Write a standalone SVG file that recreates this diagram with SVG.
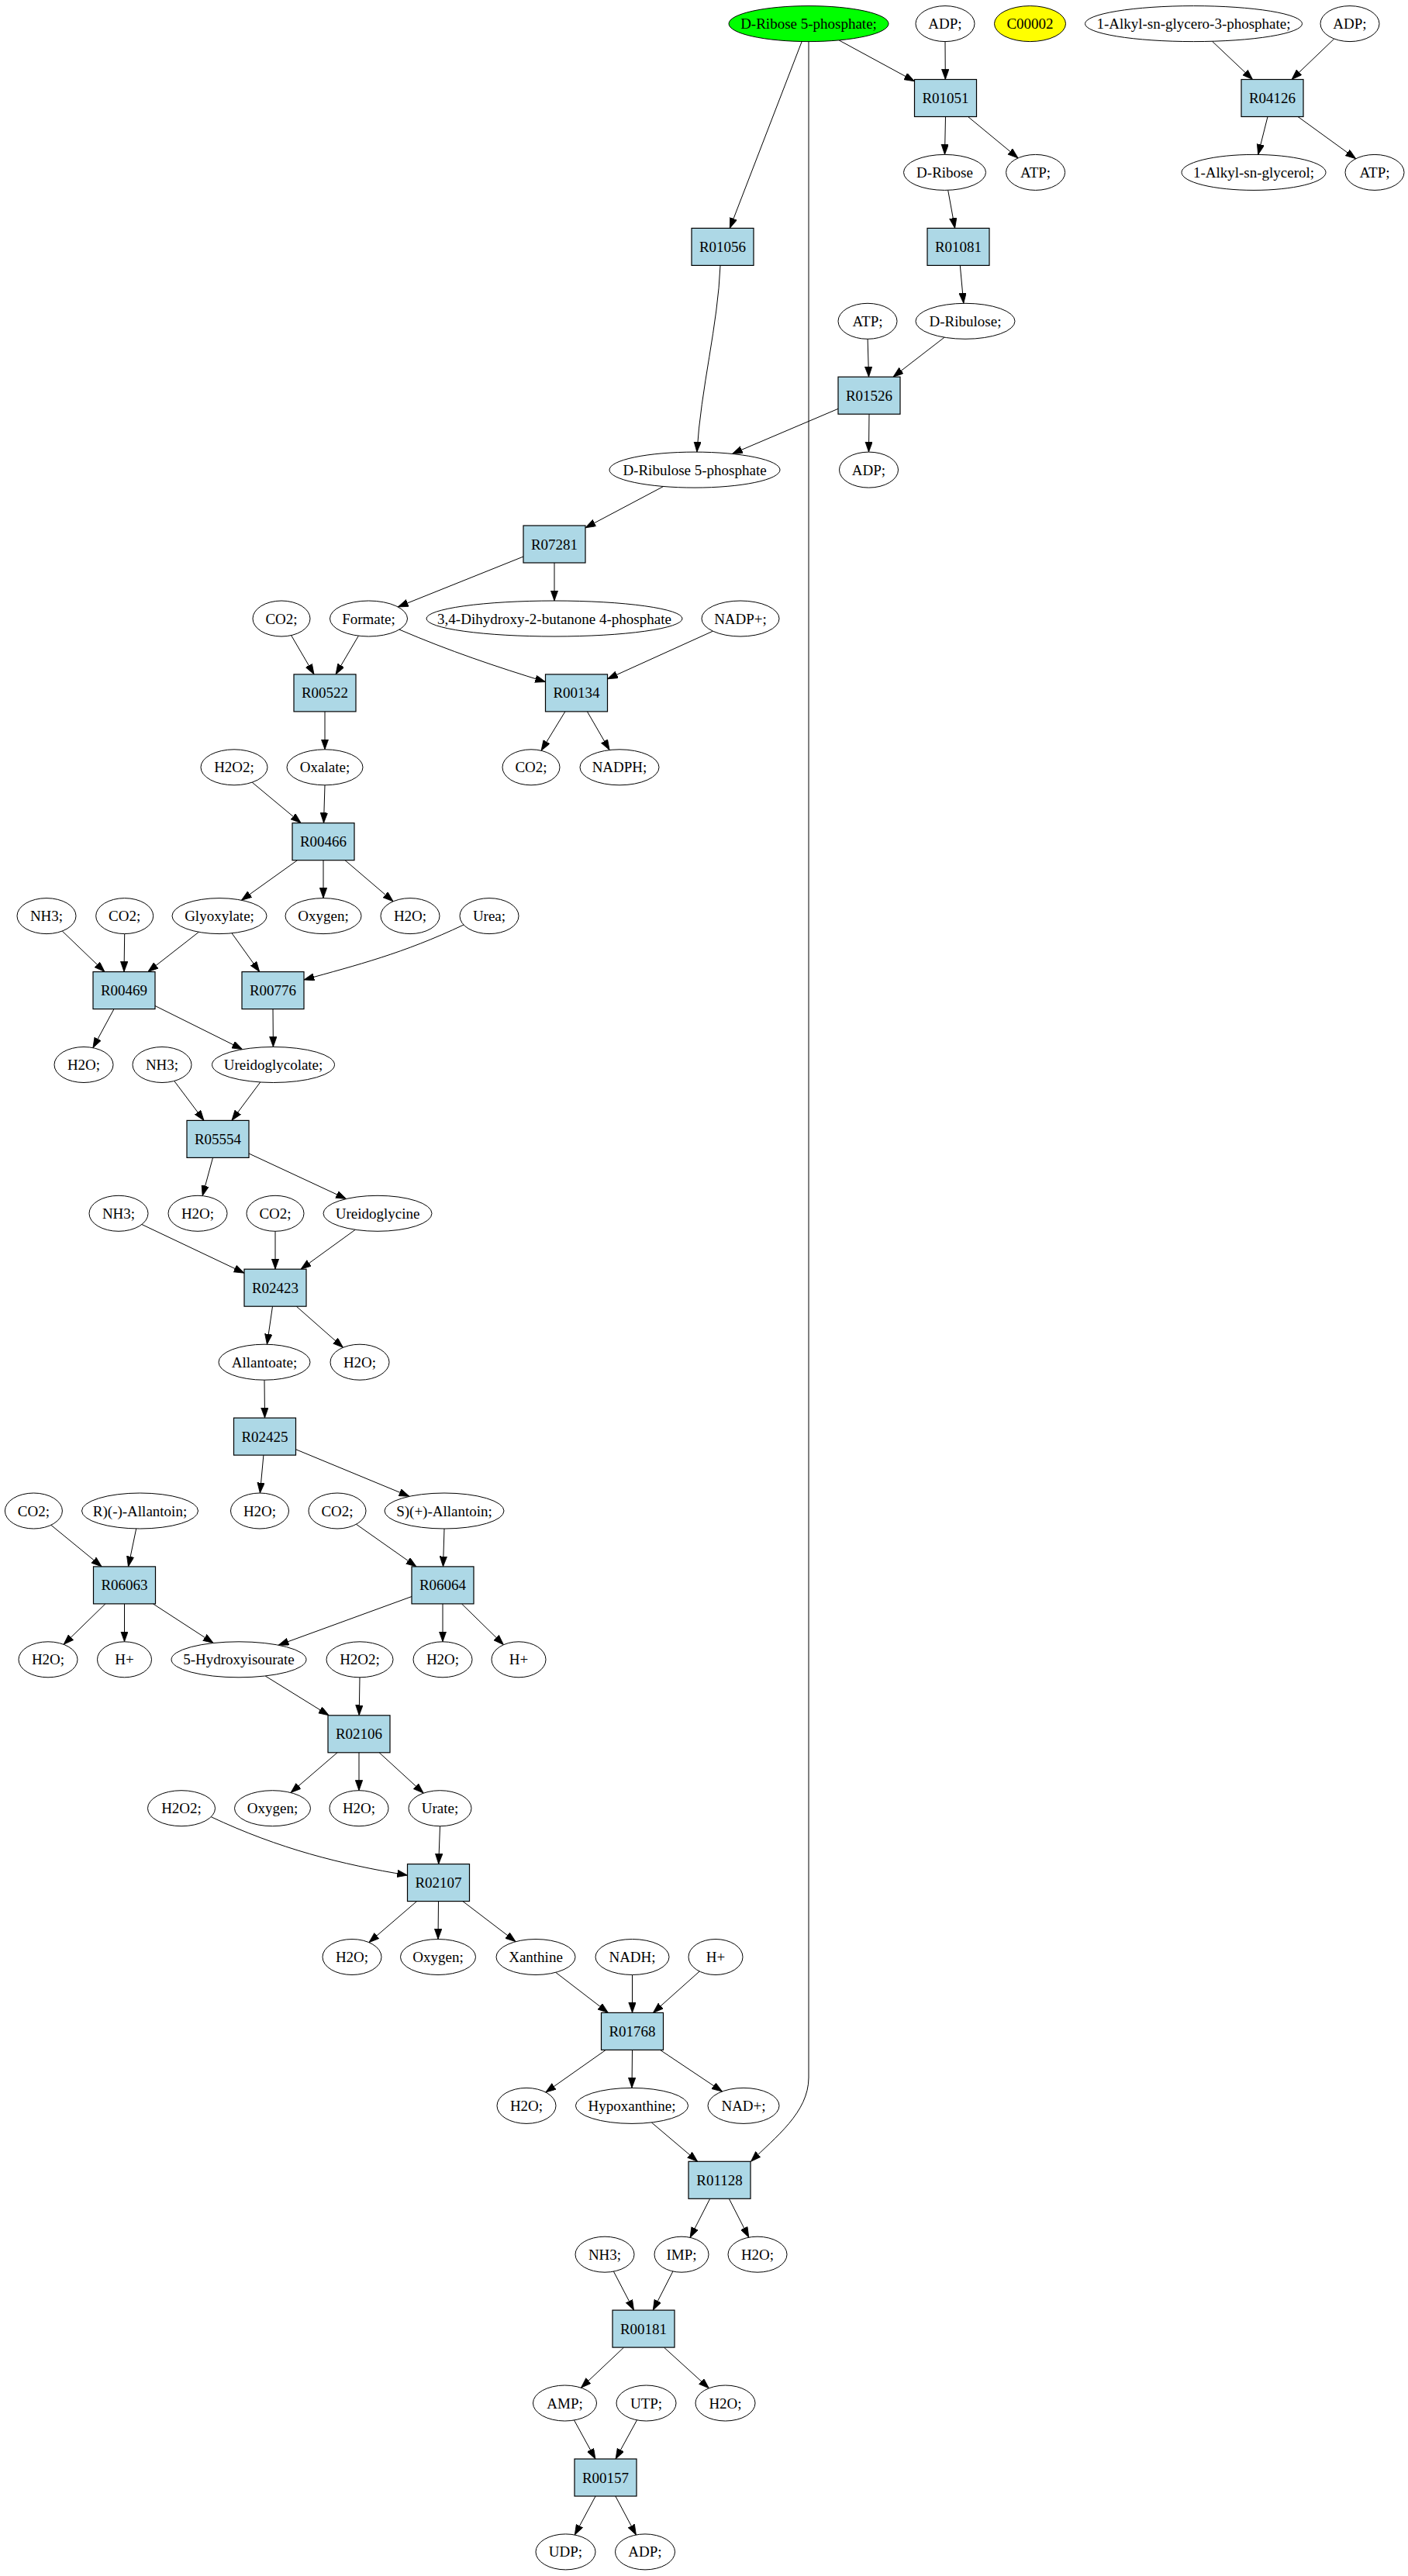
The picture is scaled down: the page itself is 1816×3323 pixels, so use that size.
<svg xmlns="http://www.w3.org/2000/svg" width="1816" height="3323" viewBox="0 0 1816 3323">
<style>
.cpd ellipse{fill:#ffffff;stroke:#000000;stroke-width:1}
.rxn rect{fill:#add8e6;stroke:#000000;stroke-width:1.2}
text{font-family:"Liberation Serif","Times New Roman",serif;font-size:19px;text-anchor:middle;fill:#000000}
#edges path{fill:none;stroke:#000000;stroke-width:1;marker-end:url(#arr)}
</style>
<defs>
<marker id="arr" markerUnits="userSpaceOnUse" viewBox="0 0 14 10" markerWidth="14" markerHeight="10" refX="13.3" refY="4.7" orient="auto">
<path d="M0,0 L13.3,4.7 L0,9.4 z" fill="#000000" stroke="#000000" stroke-width="0.8"/>
</marker>
</defs>
<rect x="0" y="0" width="1816" height="3323" fill="#ffffff"/>
<g id="edges">
<path d="M1082.1,51.9 L1179.5,104.8"/>
<path d="M1219,53.6 L1219.3,102.5"/>
<path d="M1219.5,150.5 L1218.5,199.4"/>
<path d="M1248.5,150.5 L1313.1,203.9"/>
<path d="M1034.2,53.5 L941.3,294.4"/>
<path d="M1563.5,53.3 L1615.6,102.5"/>
<path d="M1720.7,50.1 L1666,102.5"/>
<path d="M1635,150.5 L1622.7,199.4"/>
<path d="M1674,150.5 L1748.7,204.7"/>
<path d="M1222.7,245.3 L1231.6,294.4"/>
<path d="M1238.3,342.4 L1242.8,391.3"/>
<path d="M1119.1,437.3 L1120.5,486.2"/>
<path d="M1218,435.2 L1152,486.2"/>
<path d="M1121,534.2 L1120.5,583.1"/>
<path d="M1081,527.3 L944.4,585.4"/>
<path d="M929,342.4 C926,420 904,500 898.9,583.1"/>
<path d="M855.6,627.5 L755,680.8"/>
<path d="M675,718 L513.2,782.9"/>
<path d="M715,726 L715,775"/>
<path d="M375.6,819.6 L405,869.9"/>
<path d="M462.4,820.2 L433.1,869.9"/>
<path d="M515,812.1 C580,840 640,860 703.5,879.6"/>
<path d="M919.4,814.2 L783.5,875.8"/>
<path d="M419,917.9 L419,966.8"/>
<path d="M728.9,917.9 L698.1,968.3"/>
<path d="M757.4,917.9 L786.1,967.5"/>
<path d="M325.2,1009.2 L388.2,1061.7"/>
<path d="M419,1012.8 L417.5,1061.7"/>
<path d="M383.5,1109.7 L311.4,1161.3"/>
<path d="M417,1109.7 L417,1158.6"/>
<path d="M445,1109.7 L507.1,1162.8"/>
<path d="M80.3,1201.1 L135,1253.6"/>
<path d="M160.7,1204.6 L160,1253.6"/>
<path d="M256.4,1202.3 L190.8,1253.6"/>
<path d="M299,1203.8 L334.7,1253.6"/>
<path d="M598,1193 C520,1230 460,1245 392,1263.9"/>
<path d="M147,1301.6 L119.9,1351.7"/>
<path d="M200,1297.5 L312.7,1353.6"/>
<path d="M352,1301.6 L352.4,1350.5"/>
<path d="M224.7,1394.4 L263,1445.4"/>
<path d="M335.7,1396 L298.9,1445.4"/>
<path d="M274.5,1493.4 L261.2,1542.6"/>
<path d="M321,1488 L446.6,1546.5"/>
<path d="M182.9,1579.5 L315,1642.2"/>
<path d="M355,1588.3 L355,1637.2"/>
<path d="M458.2,1586.3 L388,1637.2"/>
<path d="M351.5,1685.2 L344.4,1734.2"/>
<path d="M382.3,1685.2 L442.5,1738.3"/>
<path d="M341,1780.2 L341.5,1829.1"/>
<path d="M339.9,1877.1 L335.4,1926"/>
<path d="M381.5,1869.7 L528,1930.3"/>
<path d="M65.8,1967.3 L131.2,2020.9"/>
<path d="M175.7,1972 L165.5,2020.9"/>
<path d="M459.5,1966.3 L537,2020.9"/>
<path d="M573,1972 L571.5,2020.9"/>
<path d="M135.9,2068.9 L82.1,2121.3"/>
<path d="M160.5,2068.9 L160.5,2117.8"/>
<path d="M197.4,2068.9 L275.2,2119.5"/>
<path d="M531,2059.5 L359.1,2122.2"/>
<path d="M571,2068.9 L571,2117.8"/>
<path d="M595.5,2068.9 L649.5,2121.7"/>
<path d="M342.2,2162 L424.2,2212.8"/>
<path d="M464,2163.8 L463.2,2212.8"/>
<path d="M435.1,2260.8 L375,2312.5"/>
<path d="M463,2260.8 L463,2309.7"/>
<path d="M489.1,2260.8 L546.2,2313.1"/>
<path d="M272.2,2343.7 C360,2385 440,2405 525.5,2419"/>
<path d="M567.5,2355.7 L565.7,2404.6"/>
<path d="M537.6,2452.6 L475.9,2505.7"/>
<path d="M565.5,2452.6 L565,2501.5"/>
<path d="M596.9,2452.6 L665.1,2504.7"/>
<path d="M716.8,2544.4 L784.4,2596.4"/>
<path d="M815.5,2547.5 L815.5,2596.4"/>
<path d="M902.2,2543 L842.4,2596.4"/>
<path d="M781.3,2644.4 L703.8,2699"/>
<path d="M815.5,2644.4 L815,2693.4"/>
<path d="M851.4,2644.4 L931.5,2698"/>
<path d="M840.4,2738 L899.7,2788.3"/>
<path d="M1043,53.6 L1043,2680 C1043,2725 1000,2757 968.5,2788.3"/>
<path d="M915.7,2836.3 L890.1,2886.4"/>
<path d="M940.3,2836.3 L965.8,2886.2"/>
<path d="M791.4,2930.1 L817.5,2980.1"/>
<path d="M867.9,2930 L842.3,2980.1"/>
<path d="M804.6,3028.1 L749.4,3080.2"/>
<path d="M856.4,3028.1 L914.4,3080.8"/>
<path d="M740.5,3122 L767.9,3172"/>
<path d="M821.5,3121.9 L794.1,3172"/>
<path d="M768.1,3220 L741.3,3270"/>
<path d="M793.8,3220 L820.4,3270"/>
</g>
<g id="nodes">
<g id="C_D_Ribose_5P" class="cpd"><ellipse cx="1043" cy="30.6" rx="103" ry="23" style="fill:#00ff00"/><text x="1043" y="37.1">D-Ribose 5-phosphate;</text></g>
<g id="C_ADP_1" class="cpd"><ellipse cx="1219" cy="30.6" rx="38" ry="23"/><text x="1219" y="37.1">ADP;</text></g>
<g id="C_C00002" class="cpd"><ellipse cx="1328.5" cy="30.6" rx="46" ry="23" style="fill:#ffff00"/><text x="1328.5" y="37.1">C00002</text></g>
<g id="C_Alkyl_G3P" class="cpd"><ellipse cx="1539.5" cy="30.6" rx="140" ry="23"/><text x="1539.5" y="37.1">1-Alkyl-sn-glycero-3-phosphate;</text></g>
<g id="C_ADP_2" class="cpd"><ellipse cx="1741" cy="30.6" rx="38" ry="23"/><text x="1741" y="37.1">ADP;</text></g>
<g id="R01051" class="rxn"><rect x="1179.5" y="102.5" width="80" height="48"/><text x="1219.5" y="133">R01051</text></g>
<g id="R04126" class="rxn"><rect x="1601" y="102.5" width="80" height="48"/><text x="1641" y="133">R04126</text></g>
<g id="C_D_Ribose" class="cpd"><ellipse cx="1218.5" cy="222.4" rx="53" ry="23"/><text x="1218.5" y="228.9">D-Ribose</text></g>
<g id="C_ATP_1" class="cpd"><ellipse cx="1335.6" cy="222.4" rx="38" ry="23"/><text x="1335.6" y="228.9">ATP;</text></g>
<g id="C_Alkyl_glycerol" class="cpd"><ellipse cx="1617" cy="222.4" rx="93" ry="23"/><text x="1617" y="228.9">1-Alkyl-sn-glycerol;</text></g>
<g id="C_ATP_2" class="cpd"><ellipse cx="1773" cy="222.4" rx="38" ry="23"/><text x="1773" y="228.9">ATP;</text></g>
<g id="R01056" class="rxn"><rect x="892" y="294.4" width="80" height="48"/><text x="932" y="324.9">R01056</text></g>
<g id="R01081" class="rxn"><rect x="1196" y="294.4" width="80" height="48"/><text x="1236" y="324.9">R01081</text></g>
<g id="C_ATP_3" class="cpd"><ellipse cx="1119" cy="414.3" rx="38" ry="23"/><text x="1119" y="420.8">ATP;</text></g>
<g id="C_D_Ribulose" class="cpd"><ellipse cx="1245" cy="414.3" rx="64" ry="23"/><text x="1245" y="420.8">D-Ribulose;</text></g>
<g id="R01526" class="rxn"><rect x="1081" y="486.2" width="80" height="48"/><text x="1121" y="516.7">R01526</text></g>
<g id="C_D_Ribulose_5P" class="cpd"><ellipse cx="896" cy="606.1" rx="110" ry="23"/><text x="896" y="612.6">D-Ribulose 5-phosphate</text></g>
<g id="C_ADP_3" class="cpd"><ellipse cx="1120.5" cy="606.1" rx="38" ry="23"/><text x="1120.5" y="612.6">ADP;</text></g>
<g id="R07281" class="rxn"><rect x="675" y="678" width="80" height="48"/><text x="715" y="708.5">R07281</text></g>
<g id="C_CO2_1" class="cpd"><ellipse cx="363" cy="798" rx="37" ry="23"/><text x="363" y="804.5">CO2;</text></g>
<g id="C_Formate" class="cpd"><ellipse cx="475.5" cy="798" rx="50" ry="23"/><text x="475.5" y="804.5">Formate;</text></g>
<g id="C_DHBP" class="cpd"><ellipse cx="715" cy="798" rx="165" ry="23"/><text x="715" y="804.5">3,4-Dihydroxy-2-butanone 4-phosphate</text></g>
<g id="C_NADPplus" class="cpd"><ellipse cx="955" cy="798" rx="50" ry="23"/><text x="955" y="804.5">NADP+;</text></g>
<g id="R00522" class="rxn"><rect x="379" y="869.9" width="80" height="48"/><text x="419" y="900.4">R00522</text></g>
<g id="R00134" class="rxn"><rect x="703.5" y="869.9" width="80" height="48"/><text x="743.5" y="900.4">R00134</text></g>
<g id="C_H2O2_1" class="cpd"><ellipse cx="302" cy="989.8" rx="43" ry="23"/><text x="302" y="996.3">H2O2;</text></g>
<g id="C_Oxalate" class="cpd"><ellipse cx="419" cy="989.8" rx="49" ry="23"/><text x="419" y="996.3">Oxalate;</text></g>
<g id="C_CO2_2" class="cpd"><ellipse cx="685" cy="989.8" rx="37" ry="23"/><text x="685" y="996.3">CO2;</text></g>
<g id="C_NADPH" class="cpd"><ellipse cx="799" cy="989.8" rx="51" ry="23"/><text x="799" y="996.3">NADPH;</text></g>
<g id="R00466" class="rxn"><rect x="377" y="1061.7" width="80" height="48"/><text x="417" y="1092.2">R00466</text></g>
<g id="C_NH3_1" class="cpd"><ellipse cx="60" cy="1181.6" rx="38" ry="23"/><text x="60" y="1188.1">NH3;</text></g>
<g id="C_CO2_3" class="cpd"><ellipse cx="160.7" cy="1181.6" rx="37" ry="23"/><text x="160.7" y="1188.1">CO2;</text></g>
<g id="C_Glyoxylate" class="cpd"><ellipse cx="283" cy="1181.6" rx="61" ry="23"/><text x="283" y="1188.1">Glyoxylate;</text></g>
<g id="C_Oxygen_1" class="cpd"><ellipse cx="417" cy="1181.6" rx="49" ry="23"/><text x="417" y="1188.1">Oxygen;</text></g>
<g id="C_H2O_1" class="cpd"><ellipse cx="529" cy="1181.6" rx="38" ry="23"/><text x="529" y="1188.1">H2O;</text></g>
<g id="C_Urea" class="cpd"><ellipse cx="631" cy="1181.6" rx="38" ry="23"/><text x="631" y="1188.1">Urea;</text></g>
<g id="R00469" class="rxn"><rect x="120" y="1253.6" width="80" height="48"/><text x="160" y="1284.1">R00469</text></g>
<g id="R00776" class="rxn"><rect x="312" y="1253.6" width="80" height="48"/><text x="352" y="1284.1">R00776</text></g>
<g id="C_H2O_2" class="cpd"><ellipse cx="108" cy="1373.5" rx="38" ry="23"/><text x="108" y="1380">H2O;</text></g>
<g id="C_NH3_2" class="cpd"><ellipse cx="209" cy="1373.5" rx="38" ry="23"/><text x="209" y="1380">NH3;</text></g>
<g id="C_Ureidoglycolate" class="cpd"><ellipse cx="352.5" cy="1373.5" rx="79" ry="23"/><text x="352.5" y="1380">Ureidoglycolate;</text></g>
<g id="R05554" class="rxn"><rect x="241" y="1445.4" width="80" height="48"/><text x="281" y="1475.9">R05554</text></g>
<g id="C_NH3_3" class="cpd"><ellipse cx="153" cy="1565.3" rx="38" ry="23"/><text x="153" y="1571.8">NH3;</text></g>
<g id="C_H2O_3" class="cpd"><ellipse cx="255" cy="1565.3" rx="38" ry="23"/><text x="255" y="1571.8">H2O;</text></g>
<g id="C_CO2_4" class="cpd"><ellipse cx="355" cy="1565.3" rx="37" ry="23"/><text x="355" y="1571.8">CO2;</text></g>
<g id="C_Ureidoglycine" class="cpd"><ellipse cx="487" cy="1565.3" rx="70" ry="23"/><text x="487" y="1571.8">Ureidoglycine</text></g>
<g id="R02423" class="rxn"><rect x="315" y="1637.2" width="80" height="48"/><text x="355" y="1667.7">R02423</text></g>
<g id="C_Allantoate" class="cpd"><ellipse cx="341" cy="1757.2" rx="59" ry="23"/><text x="341" y="1763.7">Allantoate;</text></g>
<g id="C_H2O_4" class="cpd"><ellipse cx="464" cy="1757.2" rx="38" ry="23"/><text x="464" y="1763.7">H2O;</text></g>
<g id="R02425" class="rxn"><rect x="301.5" y="1829.1" width="80" height="48"/><text x="341.5" y="1859.6">R02425</text></g>
<g id="C_CO2_5" class="cpd"><ellipse cx="43.4" cy="1949" rx="37" ry="23"/><text x="43.4" y="1955.5">CO2;</text></g>
<g id="C_R_Allantoin" class="cpd"><ellipse cx="180.5" cy="1949" rx="75" ry="23"/><text x="180.5" y="1955.5">R)(-)-Allantoin;</text></g>
<g id="C_H2O_5" class="cpd"><ellipse cx="335" cy="1949" rx="37.5" ry="23"/><text x="335" y="1955.5">H2O;</text></g>
<g id="C_CO2_6" class="cpd"><ellipse cx="435" cy="1949" rx="37" ry="23"/><text x="435" y="1955.5">CO2;</text></g>
<g id="C_S_Allantoin" class="cpd"><ellipse cx="573" cy="1949" rx="77" ry="23"/><text x="573" y="1955.5">S)(+)-Allantoin;</text></g>
<g id="R06063" class="rxn"><rect x="120.5" y="2020.9" width="80" height="48"/><text x="160.5" y="2051.4">R06063</text></g>
<g id="R06064" class="rxn"><rect x="531" y="2020.9" width="80" height="48"/><text x="571" y="2051.4">R06064</text></g>
<g id="C_H2O_6" class="cpd"><ellipse cx="62" cy="2140.8" rx="38" ry="23"/><text x="62" y="2147.3">H2O;</text></g>
<g id="C_Hplus_1" class="cpd"><ellipse cx="160.5" cy="2140.8" rx="35" ry="23"/><text x="160.5" y="2147.3">H+</text></g>
<g id="C_5HIU" class="cpd"><ellipse cx="308" cy="2140.8" rx="87" ry="23"/><text x="308" y="2147.3">5-Hydroxyisourate</text></g>
<g id="C_H2O2_2" class="cpd"><ellipse cx="464" cy="2140.8" rx="43" ry="23"/><text x="464" y="2147.3">H2O2;</text></g>
<g id="C_H2O_7" class="cpd"><ellipse cx="571" cy="2140.8" rx="38" ry="23"/><text x="571" y="2147.3">H2O;</text></g>
<g id="C_Hplus_2" class="cpd"><ellipse cx="669" cy="2140.8" rx="35" ry="23"/><text x="669" y="2147.3">H+</text></g>
<g id="R02106" class="rxn"><rect x="423" y="2212.8" width="80" height="48"/><text x="463" y="2243.3">R02106</text></g>
<g id="C_H2O2_3" class="cpd"><ellipse cx="234" cy="2332.7" rx="43.5" ry="23"/><text x="234" y="2339.2">H2O2;</text></g>
<g id="C_Oxygen_2" class="cpd"><ellipse cx="351.5" cy="2332.7" rx="49" ry="23"/><text x="351.5" y="2339.2">Oxygen;</text></g>
<g id="C_H2O_8" class="cpd"><ellipse cx="463" cy="2332.7" rx="38" ry="23"/><text x="463" y="2339.2">H2O;</text></g>
<g id="C_Urate" class="cpd"><ellipse cx="567.5" cy="2332.7" rx="40.5" ry="23"/><text x="567.5" y="2339.2">Urate;</text></g>
<g id="R02107" class="rxn"><rect x="525.5" y="2404.6" width="80" height="48"/><text x="565.5" y="2435.1">R02107</text></g>
<g id="C_H2O_9" class="cpd"><ellipse cx="454" cy="2524.5" rx="38" ry="23"/><text x="454" y="2531">H2O;</text></g>
<g id="C_Oxygen_3" class="cpd"><ellipse cx="565" cy="2524.5" rx="48.5" ry="23"/><text x="565" y="2531">Oxygen;</text></g>
<g id="C_Xanthine" class="cpd"><ellipse cx="691" cy="2524.5" rx="51" ry="23"/><text x="691" y="2531">Xanthine</text></g>
<g id="C_NADH" class="cpd"><ellipse cx="815.5" cy="2524.5" rx="47.5" ry="23"/><text x="815.5" y="2531">NADH;</text></g>
<g id="C_Hplus_3" class="cpd"><ellipse cx="923" cy="2524.5" rx="35" ry="23"/><text x="923" y="2531">H+</text></g>
<g id="R01768" class="rxn"><rect x="775.5" y="2596.4" width="80" height="48"/><text x="815.5" y="2626.9">R01768</text></g>
<g id="C_H2O_10" class="cpd"><ellipse cx="679" cy="2716.4" rx="38" ry="23"/><text x="679" y="2722.9">H2O;</text></g>
<g id="C_Hypoxanthine" class="cpd"><ellipse cx="815" cy="2716.4" rx="72.6" ry="23"/><text x="815" y="2722.9">Hypoxanthine;</text></g>
<g id="C_NADplus" class="cpd"><ellipse cx="959" cy="2716.4" rx="46" ry="23"/><text x="959" y="2722.9">NAD+;</text></g>
<g id="R01128" class="rxn"><rect x="888" y="2788.3" width="80" height="48"/><text x="928" y="2818.8">R01128</text></g>
<g id="C_NH3_4" class="cpd"><ellipse cx="780" cy="2908.2" rx="38" ry="23"/><text x="780" y="2914.7">NH3;</text></g>
<g id="C_IMP" class="cpd"><ellipse cx="879" cy="2908.2" rx="35" ry="23"/><text x="879" y="2914.7">IMP;</text></g>
<g id="C_H2O_11" class="cpd"><ellipse cx="977" cy="2908.2" rx="38" ry="23"/><text x="977" y="2914.7">H2O;</text></g>
<g id="R00181" class="rxn"><rect x="790" y="2980.1" width="80" height="48"/><text x="830" y="3010.6">R00181</text></g>
<g id="C_AMP" class="cpd"><ellipse cx="728.5" cy="3100" rx="41" ry="23"/><text x="728.5" y="3106.5">AMP;</text></g>
<g id="C_UTP" class="cpd"><ellipse cx="833.5" cy="3100" rx="38.5" ry="23"/><text x="833.5" y="3106.5">UTP;</text></g>
<g id="C_H2O_12" class="cpd"><ellipse cx="935.5" cy="3100" rx="38.5" ry="23"/><text x="935.5" y="3106.5">H2O;</text></g>
<g id="R00157" class="rxn"><rect x="741" y="3172" width="80" height="48"/><text x="781" y="3202.5">R00157</text></g>
<g id="C_UDP" class="cpd"><ellipse cx="729.5" cy="3291.9" rx="38.5" ry="23"/><text x="729.5" y="3298.4">UDP;</text></g>
<g id="C_ADP_4" class="cpd"><ellipse cx="832" cy="3291.9" rx="38.5" ry="23"/><text x="832" y="3298.4">ADP;</text></g>
</g>
</svg>
